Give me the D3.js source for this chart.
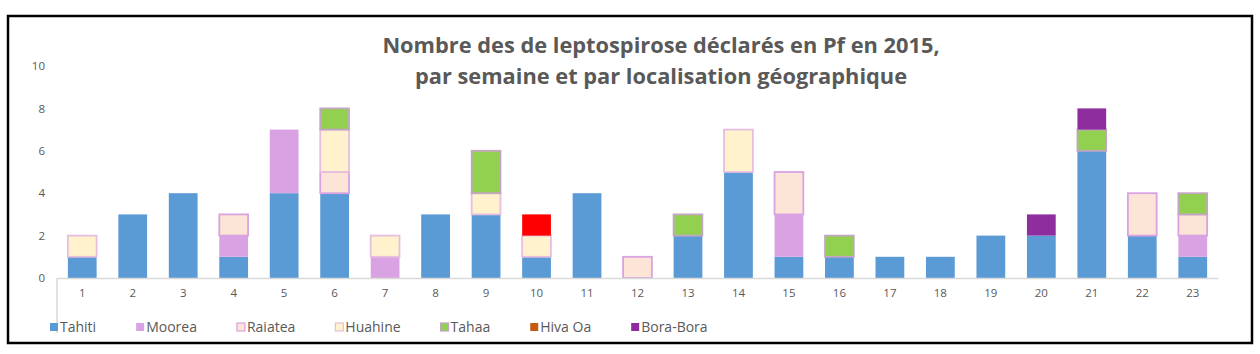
<!DOCTYPE html>
<html>
<head>
<meta charset="utf-8">
<script src="https://cdn.jsdelivr.net/npm/d3@7"></script>
<style>
  body { margin: 0; background: #fff; }
  svg { display: block; font-family: "Open Sans", sans-serif; }
</style>
</head>
<body>
<div id="chart"></div>
<script>
// DONNEES
const weeks = ["1","2","3","4","5","6","7","8","9","10","11","12","13","14","15","16","17","18","19","20","21","22","23"];
const tahiti   = [1,3,4,1,4,4,0,3,3,1,4,0,2,5,1,1,1,1,2,2,6,2,1];
const moorea   = [0,0,0,1,3,0,1,0,0,0,0,0,0,0,2,0,0,0,0,0,0,0,1];
const raiatea  = [0,0,0,1,0,1,0,0,0,0,0,1,0,0,2,0,0,0,0,0,0,2,1];
const huahine  = [1,0,0,0,0,2,1,0,1,1,0,0,0,2,0,0,0,0,0,0,0,0,0];
const tahaa    = [0,0,0,0,0,1,0,0,2,0,0,0,1,0,0,1,0,0,0,0,1,0,1];
const hivaOa   = [0,0,0,0,0,0,0,0,0,1,0,0,0,0,0,0,0,0,0,0,0,0,0];
const boraBora = [0,0,0,0,0,0,0,0,0,0,0,0,0,0,0,0,0,0,0,1,1,0,0];
const yTicks = [0,2,4,6,8,10];
const titleLines = ["Nombre des de leptospirose déclarés en Pf en 2015,", "par semaine et par localisation géographique"];

const series = [
  { name: "Tahiti",    values: tahiti,   fill: "#5B9BD5", stroke: null,      legend: "#5B9BD5" },
  { name: "Moorea",    values: moorea,   fill: "#D9A2E2", stroke: null,      legend: "#D9A2E2" },
  { name: "Raiatea",   values: raiatea,  fill: "#FCE4D6", stroke: "#D9A2E2", legend: "#FCE4D6" },
  { name: "Huahine",   values: huahine,  fill: "#FFF2CC", stroke: "#E6BEDF", legend: "#FFF2CC" },
  { name: "Tahaa",     values: tahaa,    fill: "#92D050", stroke: "#C4A6C2", legend: "#92D050" },
  { name: "Hiva Oa",   values: hivaOa,   fill: "#FF0000", stroke: null,      legend: "#C55A11" },
  { name: "Bora-Bora", values: boraBora, fill: "#8E2E9E", stroke: null,      legend: "#8E2E9E" }
];

const W = 1260, H = 354;
const margin = { top: 66, right: 42, bottom: 76, left: 57 };
const width = W - margin.left - margin.right;
const height = 278 - margin.top;

const svg = d3.select("#chart").append("svg")
  .attr("width", W).attr("height", H);

// cadre
svg.append("rect")
  .attr("x", 8).attr("y", 16).attr("width", 1244).attr("height", 327)
  .attr("fill", "none").attr("stroke", "#000").attr("stroke-width", 2.5);

// TITRE
svg.append("g").selectAll("text")
  .data(titleLines)
  .join("text")
  .attr("x", 661)
  .attr("y", (d, i) => 53 + i * 31)
  .attr("text-anchor", "middle")
  .attr("font-size", 21.8)
  .attr("font-weight", "bold")
  .attr("fill", "#595959")
  .text(d => d);

const g = svg.append("g").attr("transform", `translate(${margin.left},${margin.top})`);

// ECHELLES
const x = d3.scaleBand().domain(weeks).range([0, width]).paddingInner(0.43).paddingOuter(0.215);
const y = d3.scaleLinear().domain([0, 10]).range([height, 0]);

// EMPILEMENT
const table = weeks.map((w, i) => {
  const row = { week: w };
  series.forEach(s => row[s.name] = s.values[i]);
  return row;
});
const stacked = d3.stack().keys(series.map(s => s.name))(table);

stacked.forEach((layer, k) => {
  const s = series[k];
  g.append("g").selectAll("rect")
    .data(layer.filter(d => d[1] > d[0]))
    .join("rect")
    .attr("x", d => x(d.data.week))
    .attr("y", d => y(d[1]))
    .attr("width", x.bandwidth())
    .attr("height", d => y(d[0]) - y(d[1]))
    .attr("fill", s.fill)
    .attr("stroke", s.stroke || "none")
    .attr("stroke-width", 1.8);
});

// AXE Y
const yAxis = g.append("g")
  .call(d3.axisLeft(y).tickValues(yTicks).tickSize(0).tickPadding(12));
yAxis.select(".domain").remove();
yAxis.selectAll("text").attr("fill", "#595959").attr("font-size", 11.5).attr("font-family", "Open Sans, sans-serif");

// AXE X
const xAxis = g.append("g")
  .attr("transform", `translate(0,${height})`)
  .call(d3.axisBottom(x).tickSize(0).tickPadding(11));
xAxis.select(".domain").attr("stroke", "#D9D9D9").attr("stroke-width", 1.5);
xAxis.selectAll("text").attr("fill", "#595959").attr("font-size", 11.5).attr("font-family", "Open Sans, sans-serif");
xAxis.append("line")
  .attr("x1", 0).attr("x2", 0).attr("y1", 0).attr("y2", 55)
  .attr("stroke", "#D9D9D9").attr("stroke-width", 1.5);

// LEGENDE
const legend = svg.append("g").attr("transform", "translate(50,327)");
let lx = 0;
series.forEach(s => {
  const item = legend.append("g").attr("transform", `translate(${lx},0)`);
  item.append("rect")
    .attr("x", 0).attr("y", -4).attr("width", 8).attr("height", 8)
    .attr("fill", s.legend)
    .attr("stroke", s.stroke || "none")
    .attr("stroke-width", 1.2);
  const t = item.append("text")
    .attr("x", 10).attr("y", 0)
    .attr("dy", "0.35em")
    .attr("font-size", 14)
    .attr("fill", "#595959")
    .text(s.name);
  lx += 10 + t.node().getComputedTextLength() + 40;
});
</script>
</body>
</html>
